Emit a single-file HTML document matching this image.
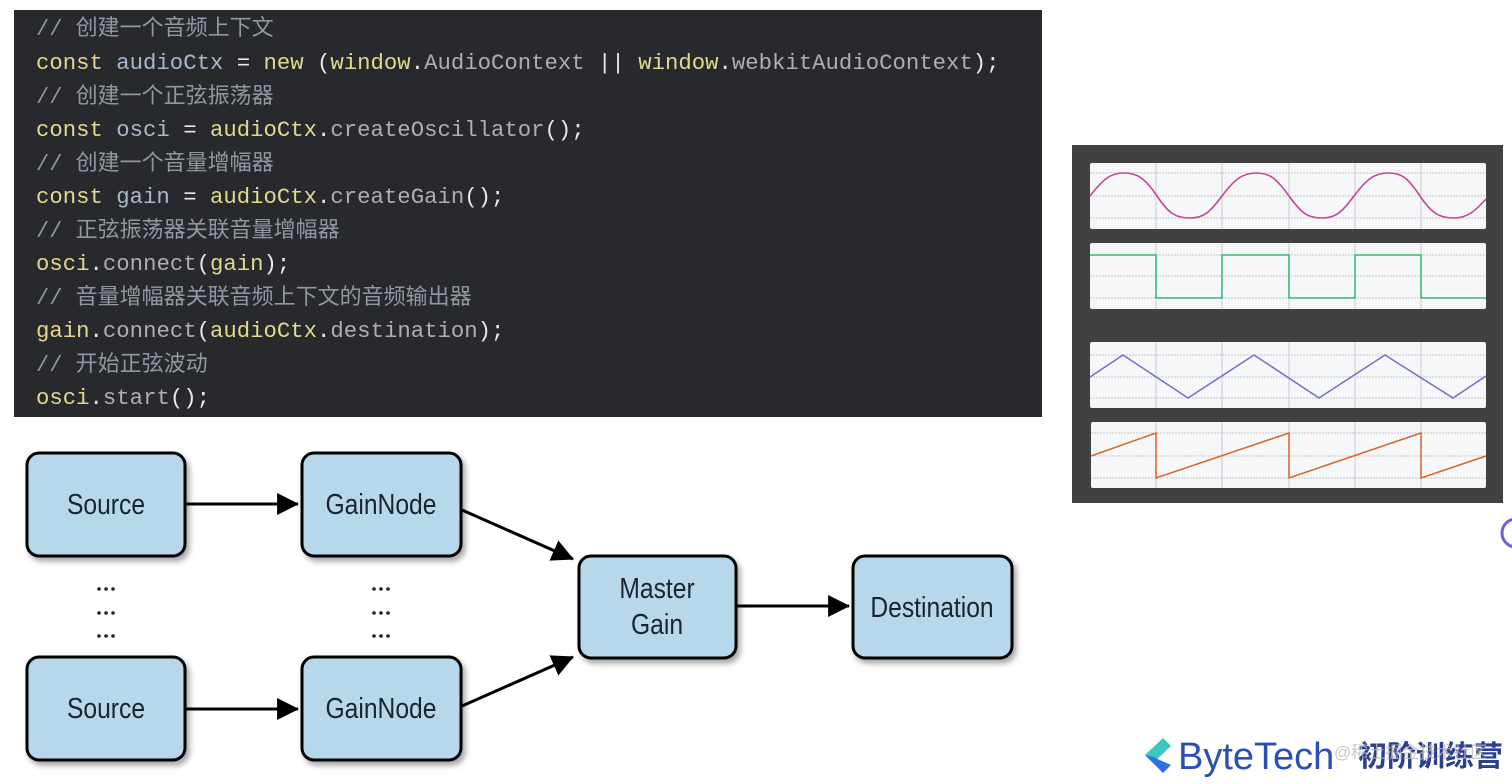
<!DOCTYPE html>
<html><head><meta charset="utf-8"><style>
html,body{margin:0;padding:0;background:#fff;width:1512px;height:784px;overflow:hidden}
svg{display:block}
.code{font-family:"Liberation Mono","Noto Sans CJK SC",monospace;font-size:22.3px}
.cm{fill:#9296a0;font-family:"Liberation Mono","Noto Sans CJK SC",monospace;font-size:22px}
.k{fill:#e3d88e}.v{fill:#a8b8cc}.p{fill:#e8e8e8}.m{fill:#b3aab9}
.lbl{font-family:"Liberation Sans",sans-serif;font-size:29px;fill:#1a2530}
</style></head><body>
<svg width="1512" height="784" xmlns="http://www.w3.org/2000/svg">
<defs>
<marker id="a2" viewBox="0 0 20 20" markerWidth="22" markerHeight="22" refX="19" refY="10" orient="auto" markerUnits="userSpaceOnUse"><path d="M0,0 L20,10 L0,20z" fill="#000"/></marker>
<filter id="sh" x="-10%" y="-10%" width="130%" height="130%"><feDropShadow dx="3" dy="4" stdDeviation="3" flood-color="#000" flood-opacity="0.35"/></filter>
</defs>
<rect x="14" y="10" width="1028" height="407" fill="#28292d"/>
<g class="code">
<text x="36" y="35" class="cm">// 创建一个音频上下文</text>
<text x="36" y="69"><tspan class="k">const</tspan><tspan class="v"> audioCtx </tspan><tspan class="p">= </tspan><tspan class="k">new </tspan><tspan class="p">(</tspan><tspan class="k">window</tspan><tspan class="p">.</tspan><tspan class="m">AudioContext</tspan><tspan class="p"> || </tspan><tspan class="k">window</tspan><tspan class="p">.</tspan><tspan class="m">webkitAudioContext</tspan><tspan class="p">);</tspan></text>
<text x="36" y="103" class="cm">// 创建一个正弦振荡器</text>
<text x="36" y="136"><tspan class="k">const</tspan><tspan class="v"> osci </tspan><tspan class="p">= </tspan><tspan class="k">audioCtx</tspan><tspan class="p">.</tspan><tspan class="m">createOscillator</tspan><tspan class="p">();</tspan></text>
<text x="36" y="170" class="cm">// 创建一个音量增幅器</text>
<text x="36" y="203"><tspan class="k">const</tspan><tspan class="v"> gain </tspan><tspan class="p">= </tspan><tspan class="k">audioCtx</tspan><tspan class="p">.</tspan><tspan class="m">createGain</tspan><tspan class="p">();</tspan></text>
<text x="36" y="237" class="cm">// 正弦振荡器关联音量增幅器</text>
<text x="36" y="270"><tspan class="k">osci</tspan><tspan class="p">.</tspan><tspan class="m">connect</tspan><tspan class="p">(</tspan><tspan class="k">gain</tspan><tspan class="p">);</tspan></text>
<text x="36" y="304" class="cm">// 音量增幅器关联音频上下文的音频输出器</text>
<text x="36" y="337"><tspan class="k">gain</tspan><tspan class="p">.</tspan><tspan class="m">connect</tspan><tspan class="p">(</tspan><tspan class="k">audioCtx</tspan><tspan class="p">.</tspan><tspan class="m">destination</tspan><tspan class="p">);</tspan></text>
<text x="36" y="371" class="cm">// 开始正弦波动</text>
<text x="36" y="404"><tspan class="k">osci</tspan><tspan class="p">.</tspan><tspan class="m">start</tspan><tspan class="p">();</tspan></text>
</g>

<rect x="1072" y="145" width="431" height="358" fill="#414141"/>
<rect x="1090" y="163" width="396" height="66" rx="2" fill="#f6f7f9"/>
<rect x="1090" y="243" width="396" height="66" rx="2" fill="#f6f7f9"/>
<rect x="1090" y="342" width="396" height="66" rx="2" fill="#f6f7f9"/>
<rect x="1091" y="422" width="395" height="66" rx="2" fill="#f6f7f9"/>
<g stroke="#c9cbcf" stroke-width="1">
<path d="M1156 163v66M1222 163v66M1289 163v66M1355 163v66M1421 163v66"/>
<path d="M1156 243v66M1222 243v66M1289 243v66M1355 243v66M1421 243v66"/>
<path d="M1156 342v66M1222 342v66M1289 342v66M1355 342v66M1421 342v66"/>
<path d="M1156 422v66M1222 422v66M1289 422v66M1355 422v66M1421 422v66"/>
</g>
<g stroke="#c4c6ca" stroke-width="1" stroke-dasharray="2 1">
<path d="M1090 173h396M1090 196h396M1090 218h396"/>
<path d="M1090 255h396M1090 276h396M1090 298h396"/>
<path d="M1090 355h396M1090 377h396M1090 398h396"/>
<path d="M1091 433h395M1091 456h395M1091 478h395"/>
</g>
<path fill="none" stroke="#c2449a" stroke-width="1.6" d="M1090 196 C1104 178,1111 173,1124 173 S1145 178,1157 196 S1176 218,1190 218 S1210 212,1222 196 S1242 173,1256 173 S1276 178,1289 196 S1308 218,1322 218 S1342 212,1354 196 S1374 173,1388 173 S1408 178,1420 196 S1440 218,1454 218 S1476 210,1486 199"/>
<path fill="none" stroke="#3db874" stroke-width="1.6" d="M1090 255H1156V298H1222V255H1289V298H1355V255H1421V298H1486"/>
<path fill="none" stroke="#6b72c8" stroke-width="1.5" d="M1090 377L1123 355L1188 398L1254 355L1319 398L1385 355L1453 398L1486 376"/>
<path fill="none" stroke="#d9622b" stroke-width="1.5" d="M1091 456L1156 433V478L1289 433V478L1421 433V478L1486 456"/>

<g stroke="#000" stroke-width="3" fill="#b7d7eb" filter="url(#sh)">
<rect x="27" y="453" width="158" height="103" rx="12"/>
<rect x="302" y="453" width="159" height="103" rx="12"/>
<rect x="579" y="556" width="157" height="102" rx="12"/>
<rect x="853" y="556" width="159" height="102" rx="12"/>
<rect x="27" y="657" width="158" height="103" rx="12"/>
<rect x="302" y="657" width="159" height="103" rx="12"/>
</g>
<g class="lbl" text-anchor="middle">
<text x="106" y="514" transform="translate(106 0) scale(0.85 1) translate(-106 0)">Source</text>
<text x="381" y="514" transform="translate(381 0) scale(0.85 1) translate(-381 0)">GainNode</text>
<text x="657" y="598" transform="translate(657 0) scale(0.85 1) translate(-657 0)">Master</text>
<text x="657" y="634" transform="translate(657 0) scale(0.85 1) translate(-657 0)">Gain</text>
<text x="932" y="617" transform="translate(932 0) scale(0.85 1) translate(-932 0)">Destination</text>
<text x="106" y="718" transform="translate(106 0) scale(0.85 1) translate(-106 0)">Source</text>
<text x="381" y="718" transform="translate(381 0) scale(0.85 1) translate(-381 0)">GainNode</text>
</g>
<g fill="#1a2530">
<circle cx="99" cy="589" r="1.8"/><circle cx="106" cy="589" r="1.8"/><circle cx="113" cy="589" r="1.8"/>
<circle cx="99" cy="613" r="1.8"/><circle cx="106" cy="613" r="1.8"/><circle cx="113" cy="613" r="1.8"/>
<circle cx="99" cy="636" r="1.8"/><circle cx="106" cy="636" r="1.8"/><circle cx="113" cy="636" r="1.8"/>
<circle cx="374" cy="589" r="1.8"/><circle cx="381" cy="589" r="1.8"/><circle cx="388" cy="589" r="1.8"/>
<circle cx="374" cy="613" r="1.8"/><circle cx="381" cy="613" r="1.8"/><circle cx="388" cy="613" r="1.8"/>
<circle cx="374" cy="636" r="1.8"/><circle cx="381" cy="636" r="1.8"/><circle cx="388" cy="636" r="1.8"/>
</g>
<g stroke="#000" stroke-width="3" fill="none">
<line x1="186" y1="504" x2="298" y2="504" marker-end="url(#a2)"/>
<line x1="186" y1="709" x2="298" y2="709" marker-end="url(#a2)"/>
<line x1="737" y1="606" x2="849" y2="606" marker-end="url(#a2)"/>
<line x1="462" y1="510" x2="573" y2="559" marker-end="url(#a2)"/>
<line x1="462" y1="706" x2="573" y2="657" marker-end="url(#a2)"/>
</g>

<path d="M1163 738 L1145 755 L1153 763 L1171 746z" fill="#3cc6c0"/>
<path d="M1145 755 L1163 773 L1171 765 L1153 757z" fill="#2f6fe0"/>
<text x="1178" y="769" font-family="Liberation Sans,sans-serif" font-size="38" fill="#2b4fb8">ByteTech</text>
<text x="1358" y="766" font-family="Liberation Sans,'Noto Sans CJK SC',sans-serif" font-size="29" font-weight="bold" fill="#2a3f8f">初阶训练营</text>
<text x="1334" y="758" font-family="Liberation Sans,'Noto Sans CJK SC',sans-serif" font-size="17" fill="#bbbbbb" opacity="0.8">@稀土掘金技术社区</text>
<circle cx="1516" cy="533" r="14" fill="none" stroke="#7a5ad8" stroke-width="3"/>
</svg>
</body></html>
